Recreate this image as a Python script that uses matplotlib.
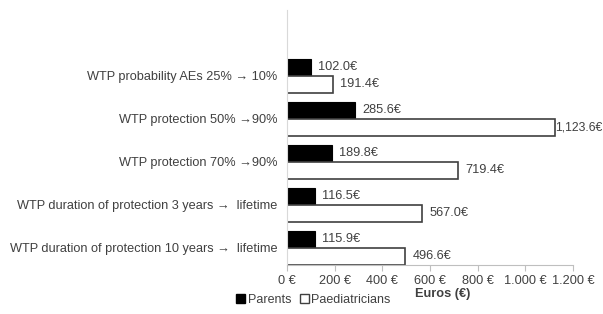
import numpy as np
import matplotlib.pyplot as plt
from matplotlib.patches import Patch

plt.rcParams['font.family'] = ['Liberation Sans', 'DejaVu Sans']

categories = ['WTP probability AEs 25% \u2192 10%',
              'WTP protection 50% \u219290%',
              'WTP protection 70% \u219290%',
              'WTP duration of protection 3 years \u2192  lifetime',
              'WTP duration of protection 10 years \u2192  lifetime']
parents = [102.0, 285.6, 189.8, 116.5, 115.9]
paediatricians = [191.4, 1123.6, 719.4, 567.0, 496.6]
xticks = [0, 200, 400, 600, 800, 1000, 1200]
xticklabels = ['0 \u20ac', '200 \u20ac', '400 \u20ac', '600 \u20ac', '800 \u20ac', '1.000 \u20ac', '1.200 \u20ac']

txt = '#404040'
fs = 9.2
fig = plt.figure(figsize=(6.03, 3.14), dpi=100)
ax = fig.add_axes([0.476, 0.156, 0.474, 0.812])

n = len(categories)
y = np.arange(n)[::-1]  # first category on top
h = 0.39
ax.barh(y + h / 2, parents, height=h, color='black', edgecolor='black', linewidth=0.8)
ax.barh(y - h / 2, paediatricians, height=h, color='white', edgecolor='#404040', linewidth=1.2)

for yi, v in zip(y, parents):
    ax.annotate(f'{v:,.1f}\u20ac', (v, yi + h / 2), xytext=(5, 0), textcoords='offset points',
                va='center', ha='left', fontsize=fs, color=txt)
for yi, v in zip(y, paediatricians):
    # the long label sits right against the bar end so it fits inside the figure
    long = v >= 1000
    ax.annotate(f'{v:,.1f}\u20ac', (v, yi - h / 2), xytext=(0.3 if long else 5, 0), textcoords='offset points',
                va='center', ha='left', fontsize=8.8 if long else fs, color=txt)

ax.set_xlim(0, 1200)
ax.set_ylim(-0.4, n - 1 + 1.53)
ax.set_xticks(xticks)
ax.set_xticklabels(xticklabels, fontsize=fs, color=txt)
ax.set_yticks(y)
ax.set_yticklabels(categories, fontsize=fs, color=txt)
ax.tick_params(axis='y', length=0, pad=7)
ax.tick_params(axis='x', length=4, color='#bfbfbf', pad=3)
for s in ['top', 'right']:
    ax.spines[s].set_visible(False)
ax.spines['left'].set_color('#d9d9d9')
ax.spines['bottom'].set_color('#bfbfbf')
ax.set_xlabel('Euros (\u20ac)', fontsize=fs, fontweight='bold', color=txt, labelpad=1)
ax.xaxis.set_label_coords(0.545, -0.09)

handles = [Patch(facecolor='black', edgecolor='black'),
           Patch(facecolor='white', edgecolor='#404040', linewidth=1.0)]
fig.legend(handles, ['Parents', 'Paediatricians'], loc='center', bbox_to_anchor=(0.52, 0.045),
           ncol=2, frameon=False, fontsize=9, handlelength=0.7, handleheight=0.7,
           handletextpad=0.2, columnspacing=0.7, labelcolor=txt)

fig.savefig('out.png', dpi=100)
